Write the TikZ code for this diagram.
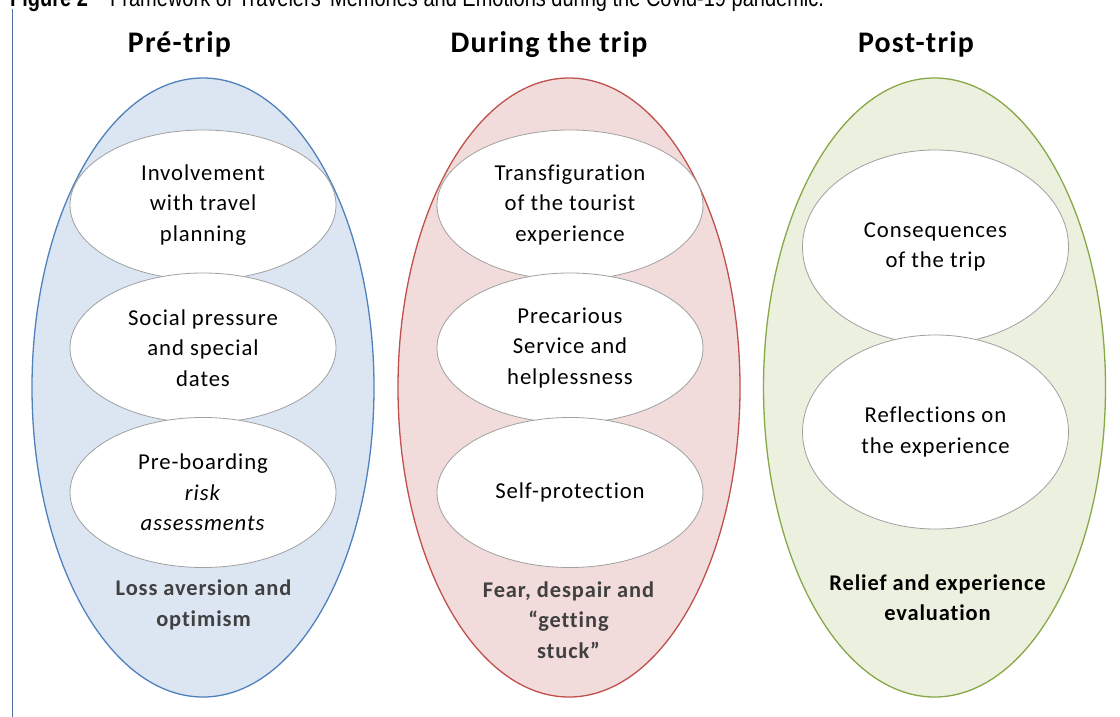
\documentclass[tikz,border=0pt]{standalone}
\usepackage{fontspec}
\setmainfont{Carlito}[LetterSpace=4, Ligatures={NoCommon}]
\newfontfamily\capfont{Liberation Sans}[FakeStretch=0.82]
\usetikzlibrary{shapes.geometric}
\definecolor{bline}{HTML}{4F81BD}
\definecolor{bfill}{HTML}{DCE6F2}
\definecolor{rline}{HTML}{C0504D}
\definecolor{rfill}{HTML}{F2DCDB}
\definecolor{gline}{HTML}{86A846}
\definecolor{gfill}{HTML}{EBF1DE}
\definecolor{sline}{HTML}{A0A0A0}
\definecolor{dgray}{HTML}{404040}
\definecolor{vline}{HTML}{4A6FA0}
\tikzset{
  bigell/.style={ellipse, inner sep=0pt, outer sep=0pt, minimum width=342bp, minimum height=619bp, line width=1.3bp},
  smallell/.style={ellipse, draw=sline, fill=white, line width=0.8bp, inner sep=0pt, outer sep=0pt, minimum width=266bp, minimum height=150bp, align=center, font=\fontsize{22.8}{30.5}\selectfont},
  tallell/.style={smallell, minimum height=194bp},
  headtext/.style={anchor=base, font=\fontsize{30}{36}\selectfont\bfseries},
  foottext/.style={align=center, font=\fontsize{22.5}{30.5}\selectfont\bfseries}
}
\begin{document}
\begin{tikzpicture}[x=1bp, y=-1bp]
\useasboundingbox (0,0) rectangle (1120,717);
\clip (0,0) rectangle (1120,717);
% caption (cut off at top)
\node[anchor=base west, inner sep=0pt, font=\capfont\fontsize{24.5}{28}\selectfont\bfseries] (fig) at (10,7) {Figure 2};
\node[anchor=base west, inner sep=0pt, font=\capfont\fontsize{24.5}{28}\selectfont] (cap) at (110,7) {Framework of Travelers' Memories and Emotions during the Covid-19 pandemic.};
\coordinate (vtop) at (12,9);
\coordinate (vbot) at (12,717);
\draw[vline, line width=1bp] (vtop) -- (vbot);
% headings
\node[headtext] (h1) at (179.5,53) {Pré-trip};
\node[headtext] (h2) at (549,53) {During the trip};
\node[headtext] (h3) at (916,53) {Post-trip};
% big ellipses
\node[bigell, draw=bline, fill=bfill] (big1) at (203,387.5) {};
\node[bigell, draw=rline, fill=rfill] (big2) at (569,387.5) {};
\node[bigell, draw=gline, fill=gfill] (big3) at (934.5,387.5) {};
% column 1
\node[smallell] (a1) at (203,205) {Involvement\\with travel\\planning};
\node[smallell] (a2) at (203,348) {Social pressure\\and special\\dates};
\node[smallell] (a3) at (203,492.5) {Pre-boarding\\\textit{risk}\\\textit{assessments}};
% column 2
\node[smallell] (b1) at (570,205) {Transfiguration\\of the tourist\\experience};
\node[smallell] (b2) at (570,348) {Precarious\\Service and\\helplessness};
\node[smallell] (b3) at (570,492.5) {Self-protection};
% column 3
\node[tallell] (c1) at (935.5,247) {Consequences\\of the trip};
\node[tallell] (c2) at (935.5,432) {Reflections on\\the experience};
% bottom labels
\node[foottext, text=dgray] (f1) at (203.5,605) {Loss aversion and\\optimism};
\node[foottext, text=dgray] (f2) at (568.5,620) {Fear, despair and\\“getting\\stuck”};
\node[foottext, text=black] (f3) at (937.5,598) {Relief and experience\\evaluation};
\end{tikzpicture}
\end{document}
